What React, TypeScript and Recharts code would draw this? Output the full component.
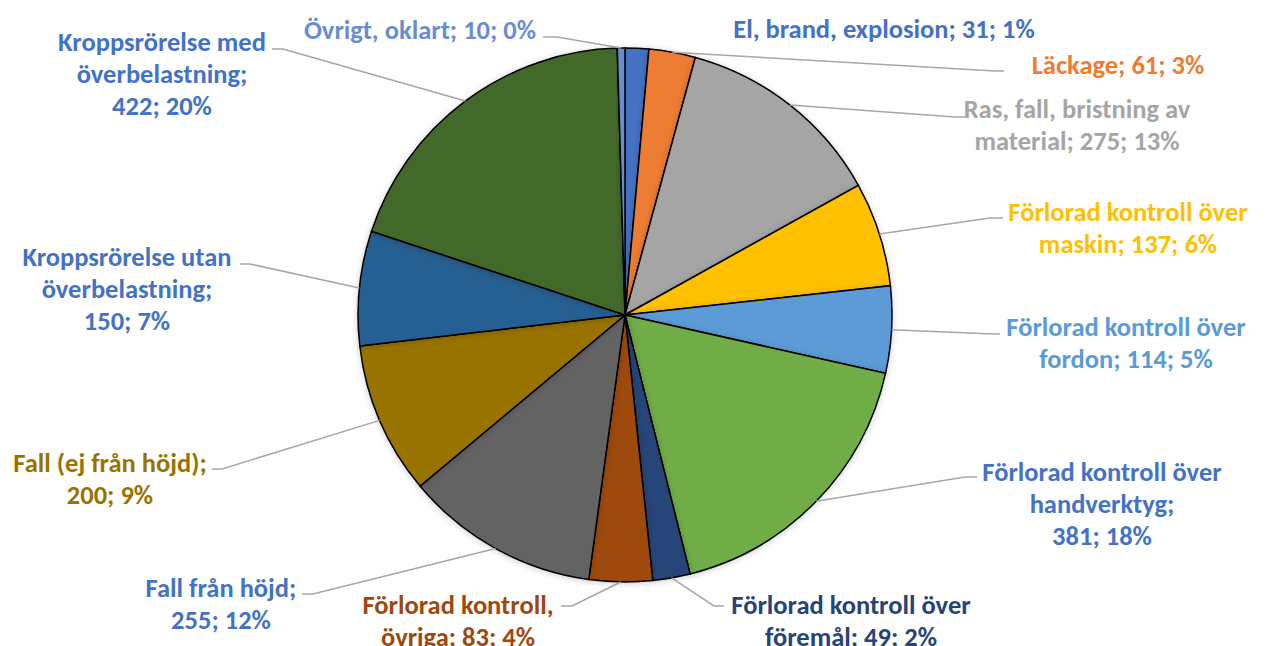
import React from "react";
import { PieChart, Pie, Cell } from "recharts";

const categories = [
  "El, brand, explosion",
  "Läckage",
  "Ras, fall, bristning av material",
  "Förlorad kontroll över maskin",
  "Förlorad kontroll över fordon",
  "Förlorad kontroll över handverktyg",
  "Förlorad kontroll över föremål",
  "Förlorad kontroll, övriga",
  "Fall från höjd",
  "Fall (ej från höjd)",
  "Kroppsrörelse utan överbelastning",
  "Kroppsrörelse med överbelastning",
  "Övrigt, oklart",
];
const values = [31, 61, 275, 137, 114, 381, 49, 83, 255, 200, 150, 422, 10];
const pctLabels = ["1%", "3%", "13%", "6%", "5%", "18%", "2%", "4%", "12%", "9%", "7%", "20%", "0%"];

const sliceColors = [
  "#4472C4", "#ED7D31", "#A5A5A5", "#FFC000", "#5B9BD5", "#70AD47", "#264478",
  "#9E480E", "#636363", "#997300", "#255E91", "#43682B", "#698ED0",
];
const labelColors = [
  "#4472C4", "#ED7D31", "#A5A5A5", "#FFC000", "#5B9BD5", "#4472C4", "#264478",
  "#9E480E", "#4472C4", "#997300", "#4472C4", "#4472C4", "#698ED0",
];

// words per line of each label
const wraps = [[5], [3], [4, 3], [3, 3], [3, 3], [3, 1, 2], [3, 3], [2, 3], [3, 2], [4, 2], [2, 1, 2], [2, 1, 2], [4]];

// text centre x, first baseline y, leader elbow (ex, ey), leader end x
type Place = { tx: number; ty: number; line?: [number, number, number] };
const places: Place[] = [
  { tx: 884, ty: 38 },
  { tx: 1118, ty: 74, line: [995, 71, 1004] },
  { tx: 1077, ty: 118, line: [955, 117, 966] },
  { tx: 1128, ty: 221, line: [990, 218, 1003] },
  { tx: 1126, ty: 336, line: [993, 334, 1000] },
  { tx: 1102, ty: 481, line: [965, 477, 977] },
  { tx: 851, ty: 614, line: [714, 606, 724] },
  { tx: 458, ty: 614, line: [572, 606, 561] },
  { tx: 221, ty: 597, line: [313, 594, 302] },
  { tx: 110, ty: 472, line: [222, 469, 212] },
  { tx: 127, ty: 266, line: [250, 264, 240] },
  { tx: 162, ty: 51, line: [283, 49, 272] },
  { tx: 420, ty: 39, line: [557, 37, 543] },
];

const data = categories.map((name, i) => ({ name, value: values[i] }));

const RAD = Math.PI / 180;
const LINE_H = 32;

const renderLabel = (props: any) => {
  const { cx, cy, midAngle, outerRadius, index } = props;
  const p = places[index];
  const words = `${categories[index]}; ${values[index]}; ${pctLabels[index]}`.split(" ");
  const lines: string[] = [];
  let k = 0;
  for (const n of wraps[index]) {
    lines.push(words.slice(k, k + n).join(" "));
    k += n;
  }
  const sx = cx + outerRadius * Math.cos(-midAngle * RAD);
  const sy = cy + outerRadius * Math.sin(-midAngle * RAD);
  return (
    <g key={`lbl-${index}`}>
      {p.line && (
        <polyline
          points={`${sx},${sy} ${p.line[0]},${p.line[1]} ${p.line[2]},${p.line[1]}`}
          fill="none"
          stroke="#A6A6A6"
          strokeWidth={1.5}
        />
      )}
      <text
        x={p.tx}
        y={p.ty}
        textAnchor="middle"
        fill={labelColors[index]}
        fontFamily="Carlito, Calibri, Lato, sans-serif"
        fontWeight="bold"
        fontSize={26.5}
      >
        {lines.map((l, j) => (
          <tspan key={j} x={p.tx} y={p.ty + j * LINE_H}>
            {l}
          </tspan>
        ))}
      </text>
    </g>
  );
};

export default function App() {
  return (
    <div style={{ position: "absolute", left: 0, top: 0, background: "#fff" }}>
      <PieChart width={1265} height={646} margin={{ top: 0, right: 0, bottom: 0, left: 0 }}>
        <defs>
          <filter id="pieShadow" x="-10%" y="-10%" width="120%" height="120%">
            <feDropShadow dx="0" dy="1" stdDeviation="3" floodColor="#000" floodOpacity="0.2" />
          </filter>
        </defs>
        <Pie
          data={data}
          dataKey="value"
          nameKey="name"
          cx={625}
          cy={315}
          outerRadius={267}
          startAngle={90}
          endAngle={-270}
          stroke="#000"
          strokeWidth={1.5}
          label={renderLabel}
          labelLine={false}
          isAnimationActive={false}
          style={{ filter: "url(#pieShadow)" }}
        >
          {data.map((d, i) => (
            <Cell key={d.name} fill={sliceColors[i]} />
          ))}
        </Pie>
      </PieChart>
    </div>
  );
}
